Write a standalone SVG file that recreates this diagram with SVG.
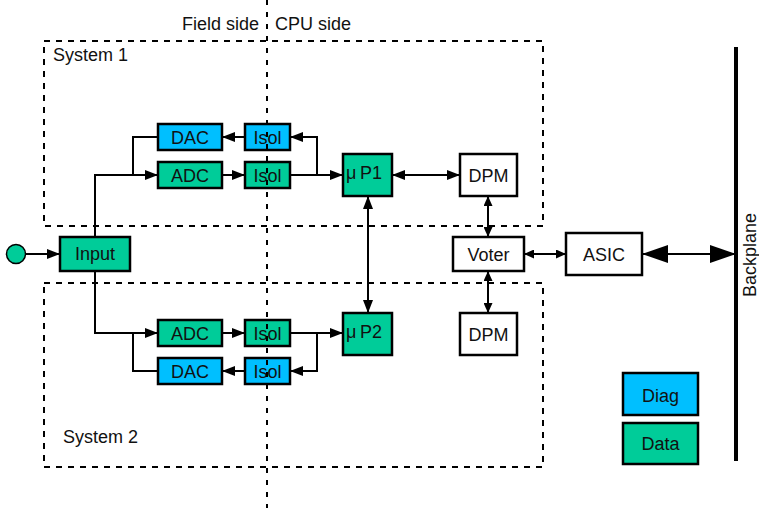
<svg xmlns="http://www.w3.org/2000/svg" width="759" height="508" viewBox="0 0 759 508">
<style>
text{font-family:"Liberation Sans",Arial,sans-serif;font-size:18px;fill:#111;}
.c{text-anchor:middle;}
.box{stroke:#000;stroke-width:2.5;}
.diag{fill:#00BFFF;}
.data{fill:#00CC99;}
.plain{fill:#fff;}
.sys{fill:none;stroke:#000;stroke-width:2;stroke-dasharray:6,6;}
.cn{fill:none;stroke:#000;stroke-width:2;}
</style>
<defs>
<marker id="a" markerUnits="userSpaceOnUse" markerWidth="13" markerHeight="10" refX="13" refY="5" orient="auto-start-reverse"><path d="M0,0 L13,5 L0,10 z" fill="#000"/></marker>
<marker id="s" markerUnits="userSpaceOnUse" markerWidth="10" markerHeight="9" refX="10" refY="4.5" orient="auto-start-reverse"><path d="M0,0 L10,4.5 L0,9 z" fill="#000"/></marker>
<marker id="b" markerUnits="userSpaceOnUse" markerWidth="26" markerHeight="18" refX="26" refY="9" orient="auto-start-reverse"><path d="M0,0 L26,9 L0,18 z" fill="#000"/></marker>
</defs>
<rect width="759" height="508" fill="#fff"/>
<g id="system1"><rect class="sys" x="44" y="41" width="499" height="185"/><text x="53" y="61">System 1</text></g>
<g id="system2"><rect class="sys" x="44" y="283" width="499" height="184"/><text x="63" y="443">System 2</text></g>
<g id="labels"><text x="259" y="30" text-anchor="end">Field side</text><text x="275" y="30">CPU side</text></g>
<g id="connectors">
<path class="cn" d="M25,254 H60" marker-end="url(#a)"/>
<path class="cn" d="M95,237 V175 H158" marker-end="url(#a)"/>
<path class="cn" d="M158,137 H133 V175"/>
<path class="cn" d="M245,137 H222" marker-end="url(#a)"/>
<path class="cn" d="M222,175 H245" marker-end="url(#a)"/>
<path class="cn" d="M290,175 H343" marker-end="url(#a)"/>
<path class="cn" d="M317,175 V137 H290" marker-end="url(#a)"/>
<path class="cn" d="M392,175 H460" marker-start="url(#a)" marker-end="url(#a)"/>
<path class="cn" d="M368,196 V313" marker-start="url(#a)" marker-end="url(#a)"/>
<path class="cn" d="M488,196 V237" marker-start="url(#s)" marker-end="url(#s)"/>
<path class="cn" d="M488,271 V313" marker-start="url(#s)" marker-end="url(#s)"/>
<path class="cn" d="M524,254 H566" marker-start="url(#s)" marker-end="url(#s)"/>
<path class="cn" d="M642,254 H736" stroke-width="5" marker-start="url(#b)" marker-end="url(#b)"/>
<path class="cn" d="M95,271 V333 H158" marker-end="url(#a)"/>
<path class="cn" d="M158,371 H133 V333"/>
<path class="cn" d="M245,371 H222" marker-end="url(#a)"/>
<path class="cn" d="M222,333 H245" marker-end="url(#a)"/>
<path class="cn" d="M290,333 H343" marker-end="url(#a)"/>
<path class="cn" d="M317,333 V371 H290" marker-end="url(#a)"/>
</g>
<g id="source"><circle cx="16" cy="254" r="9.5" fill="#00CC99" stroke="#000" stroke-width="1.5"/></g>
<g id="input"><rect class="box data" x="60" y="237" width="70" height="34"/><text class="c" x="95" y="260">Input</text></g>
<g id="dac1"><rect class="box diag" x="158" y="124" width="64" height="26"/><text class="c" x="190" y="144">DAC</text></g>
<g id="isol1"><rect class="box diag" x="245" y="124" width="45" height="26"/><text class="c" x="267.5" y="144">Isol</text></g>
<g id="adc1"><rect class="box data" x="158" y="162" width="64" height="26"/><text class="c" x="190" y="182">ADC</text></g>
<g id="isol2"><rect class="box data" x="245" y="162" width="45" height="26"/><text class="c" x="267.5" y="182">Isol</text></g>
<g id="up1"><rect class="box data" x="343" y="154" width="49" height="42"/><text x="346" y="179">μ</text><text x="360" y="179">P1</text></g>
<g id="dpm1"><rect class="box plain" x="460" y="154" width="57" height="42"/><text class="c" x="488.5" y="182">DPM</text></g>
<g id="voter"><rect class="box plain" x="453" y="237" width="71" height="34"/><text class="c" x="488.5" y="261">Voter</text></g>
<g id="asic"><rect class="box plain" x="566" y="233" width="76" height="42"/><text class="c" x="604" y="261">ASIC</text></g>
<g id="adc2"><rect class="box data" x="158" y="320" width="64" height="26"/><text class="c" x="190" y="340">ADC</text></g>
<g id="isol3"><rect class="box data" x="245" y="320" width="45" height="26"/><text class="c" x="267.5" y="340">Isol</text></g>
<g id="dac2"><rect class="box diag" x="158" y="358" width="64" height="26"/><text class="c" x="190" y="378">DAC</text></g>
<g id="isol4"><rect class="box diag" x="245" y="358" width="45" height="26"/><text class="c" x="267.5" y="378">Isol</text></g>
<g id="up2"><rect class="box data" x="343" y="313" width="49" height="42"/><text x="346" y="338">μ</text><text x="360" y="338">P2</text></g>
<g id="dpm2"><rect class="box plain" x="460" y="313" width="57" height="42"/><text class="c" x="488.5" y="341">DPM</text></g>
<g id="backplane"><line x1="736" y1="47" x2="736" y2="461" stroke="#000" stroke-width="4"/><text class="c" transform="translate(756,255) rotate(-90)">Backplane</text></g>
<g id="legend"><rect class="box diag" x="623" y="373" width="75" height="42"/><text class="c" x="660.5" y="402">Diag</text><rect class="box data" x="623" y="423" width="75" height="41"/><text class="c" x="660.5" y="450">Data</text></g>
<g id="divider"><line x1="267" y1="0" x2="267" y2="508" stroke="#000" stroke-width="2" stroke-dasharray="5,7"/></g>
</svg>
